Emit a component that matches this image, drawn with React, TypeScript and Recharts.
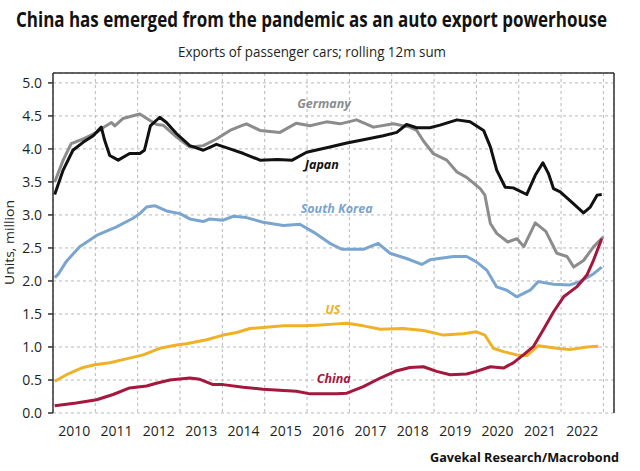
import {
  CartesianGrid,
  Line,
  LineChart,
  ReferenceDot,
  ReferenceLine,
  XAxis,
  YAxis,
} from 'recharts'

// rolling 12m passenger-car exports, million units; [fractional year, value]
const GERMANY: [number, number][] = [
  [2010.04, 3.5], [2010.24, 3.83], [2010.43, 4.08], [2010.71, 4.15], [2011.03, 4.25],
  [2011.18, 4.32], [2011.38, 4.4], [2011.46, 4.35], [2011.65, 4.46], [2012.05, 4.53],
  [2012.29, 4.43], [2012.45, 4.37], [2012.6, 4.36], [2012.92, 4.18], [2013.23, 4.03],
  [2013.55, 4.05], [2013.86, 4.15], [2014.18, 4.28], [2014.41, 4.34], [2014.57, 4.38],
  [2014.89, 4.28], [2015.36, 4.25], [2015.75, 4.39], [2016.07, 4.35], [2016.46, 4.41],
  [2016.78, 4.38], [2017.17, 4.44], [2017.57, 4.33], [2018.04, 4.38], [2018.43, 4.33],
  [2018.59, 4.28], [2018.75, 4.12], [2018.98, 3.93], [2019.3, 3.83], [2019.54, 3.65],
  [2019.77, 3.57], [2020.09, 3.4], [2020.2, 3.3], [2020.33, 2.87], [2020.48, 2.72],
  [2020.74, 2.59], [2020.96, 2.64], [2021.12, 2.52], [2021.39, 2.88], [2021.64, 2.75],
  [2021.9, 2.42], [2022.14, 2.37], [2022.3, 2.21], [2022.53, 2.31], [2022.77, 2.52],
  [2023.0, 2.67],
]

const JAPAN: [number, number][] = [
  [2010.04, 3.31], [2010.24, 3.68], [2010.47, 3.98], [2010.71, 4.1], [2010.95, 4.2],
  [2011.14, 4.33], [2011.22, 4.13], [2011.34, 3.9], [2011.54, 3.83], [2011.81, 3.93],
  [2012.05, 3.93], [2012.16, 3.98], [2012.3, 4.35], [2012.52, 4.48], [2012.68, 4.4],
  [2012.92, 4.23], [2013.23, 4.05], [2013.55, 3.98], [2013.86, 4.07], [2014.18, 4.0],
  [2014.5, 3.93], [2014.89, 3.83], [2015.3, 3.84], [2015.65, 3.83], [2015.99, 3.95],
  [2016.54, 4.03], [2016.94, 4.09], [2017.33, 4.14], [2017.8, 4.2], [2018.12, 4.25],
  [2018.35, 4.37], [2018.59, 4.32], [2018.9, 4.32], [2019.14, 4.36], [2019.54, 4.44],
  [2019.85, 4.41], [2020.17, 4.28], [2020.33, 4.03], [2020.48, 3.68], [2020.68, 3.42],
  [2020.87, 3.41], [2021.19, 3.31], [2021.39, 3.6], [2021.57, 3.79], [2021.7, 3.63],
  [2021.82, 3.4], [2021.98, 3.35], [2022.29, 3.17], [2022.53, 3.03], [2022.69, 3.12],
  [2022.85, 3.3], [2022.96, 3.31],
]

const SOUTH_KOREA: [number, number][] = [
  [2010.04, 2.05], [2010.12, 2.1], [2010.32, 2.3], [2010.63, 2.52], [2011.03, 2.69],
  [2011.5, 2.82], [2011.89, 2.95], [2012.05, 3.02], [2012.21, 3.12], [2012.4, 3.14],
  [2012.68, 3.06], [2013.0, 3.02], [2013.23, 2.94], [2013.55, 2.9], [2013.7, 2.94],
  [2014.02, 2.92], [2014.26, 2.98], [2014.57, 2.96], [2014.96, 2.89], [2015.44, 2.84],
  [2015.83, 2.86], [2016.15, 2.74], [2016.54, 2.57], [2016.82, 2.48], [2017.33, 2.48],
  [2017.68, 2.57], [2017.96, 2.42], [2018.35, 2.34], [2018.71, 2.25], [2018.9, 2.32],
  [2019.46, 2.37], [2019.77, 2.37], [2020.0, 2.29], [2020.25, 2.16], [2020.48, 1.91],
  [2020.72, 1.86], [2020.95, 1.76], [2021.27, 1.86], [2021.46, 1.99], [2021.82, 1.95],
  [2022.21, 1.94], [2022.45, 1.99], [2022.77, 2.11], [2022.96, 2.21],
]

const US: [number, number][] = [
  [2010.04, 0.48], [2010.32, 0.58], [2010.71, 0.69], [2010.99, 0.73], [2011.34, 0.76],
  [2011.73, 0.82], [2012.13, 0.88], [2012.52, 0.98], [2012.92, 1.03], [2013.15, 1.05],
  [2013.39, 1.08], [2013.63, 1.11], [2014.02, 1.18], [2014.34, 1.22], [2014.65, 1.28],
  [2015.04, 1.3], [2015.44, 1.32], [2015.91, 1.32], [2016.23, 1.33], [2016.7, 1.35],
  [2016.94, 1.36], [2017.33, 1.32], [2017.73, 1.27], [2018.27, 1.28], [2018.75, 1.25],
  [2019.22, 1.18], [2019.69, 1.2], [2020.0, 1.23], [2020.2, 1.18], [2020.4, 0.98],
  [2020.64, 0.93], [2020.95, 0.88], [2021.19, 0.87], [2021.46, 1.02], [2021.9, 0.98],
  [2022.21, 0.96], [2022.61, 1.0], [2022.88, 1.01],
]

const CHINA: [number, number][] = [
  [2010.04, 0.11], [2010.55, 0.15], [2011.03, 0.2], [2011.42, 0.28], [2011.81, 0.38],
  [2012.21, 0.41], [2012.44, 0.45], [2012.76, 0.5], [2013.23, 0.53], [2013.47, 0.51],
  [2013.78, 0.43], [2014.02, 0.43], [2014.49, 0.39], [2014.96, 0.36], [2015.44, 0.34],
  [2015.75, 0.33], [2016.07, 0.29], [2016.7, 0.29], [2016.94, 0.3], [2017.33, 0.4],
  [2017.73, 0.53], [2018.12, 0.64], [2018.43, 0.69], [2018.75, 0.7], [2019.06, 0.63],
  [2019.38, 0.58], [2019.77, 0.59], [2020.0, 0.63], [2020.33, 0.7], [2020.64, 0.68],
  [2020.87, 0.76], [2021.11, 0.88], [2021.35, 1.01], [2021.58, 1.26], [2021.82, 1.53],
  [2022.06, 1.76], [2022.37, 1.91], [2022.61, 2.09], [2022.77, 2.32], [2022.96, 2.64],
]

const YEAR_TICKS = [2010, 2011, 2012, 2013, 2014, 2015, 2016, 2017, 2018, 2019, 2020, 2021, 2022, 2023]
const YEAR_LABEL_TICKS = YEAR_TICKS.slice(0, -1).map((y) => y + 0.5)
const Y_TICKS = [0, 0.5, 1, 1.5, 2, 2.5, 3, 3.5, 4, 4.5, 5]
const X_DOMAIN: [number, number] = [2010, 2023.25]
const Y_DOMAIN: [number, number] = [0, 5.15]

// label name, anchor position [year, value], colour
const SERIES = [
  { name: 'South Korea', data: SOUTH_KOREA, color: '#7aa5cf', at: [2016.7, 3.1] },
  { name: 'US', data: US, color: '#efb128', at: [2016.61, 1.56] },
  { name: 'Germany', data: GERMANY, color: '#8c8c8c', at: [2016.4, 4.69] },
  { name: 'Japan', data: JAPAN, color: '#111111', at: [2016.35, 3.76] },
  { name: 'China', data: CHINA, color: '#a5173d', at: [2016.63, 0.52] },
]

const FONT = '"Open Sans", sans-serif'
const INK = '#231f20'

const toPoints = (rows: [number, number][]) => rows.map(([t, v]) => ({ t, v }))

export default function App() {
  return (
    <div style={{ position: 'relative', width: 640, height: 471, background: '#fff' }}>
      <style>{'body { margin: 0; }'}</style>
      <LineChart
        width={640}
        height={471}
        margin={{ top: 73, right: 26, bottom: 28, left: 0 }}
        style={{ fontFamily: FONT }}
      >
        <CartesianGrid stroke="#b8b8b8" strokeDasharray="3 3" />
        <XAxis
          dataKey="t"
          type="number"
          domain={X_DOMAIN}
          allowDataOverflow
          ticks={YEAR_TICKS}
          height={0}
          tickSize={6}
          tick={() => <g />}
          axisLine={{ stroke: '#333', strokeWidth: 1.5 }}
          tickLine={{ stroke: '#333', strokeWidth: 1.5 }}
        />
        <XAxis
          xAxisId="lbl"
          dataKey="t"
          type="number"
          domain={X_DOMAIN}
          allowDataOverflow
          ticks={YEAR_LABEL_TICKS}
          tickFormatter={(v: number) => String(Math.floor(v))}
          height={30}
          tickSize={6}
          tickMargin={7}
          axisLine={false}
          tickLine={false}
          tick={{ fontSize: 14, fill: INK, fontFamily: FONT }}
        />
        <YAxis
          type="number"
          domain={Y_DOMAIN}
          allowDataOverflow
          ticks={Y_TICKS}
          tickFormatter={(v: number) => v.toFixed(1)}
          width={53}
          tickSize={5}
          tickMargin={6}
          axisLine={{ stroke: '#333', strokeWidth: 1.5 }}
          tickLine={{ stroke: '#333', strokeWidth: 1.5 }}
          tick={{ fontSize: 14, fill: INK, fontFamily: FONT }}
        />
        <ReferenceLine x={X_DOMAIN[1]} stroke="#333" strokeWidth={1.5} />
        <ReferenceLine y={Y_DOMAIN[1]} stroke="#333" strokeWidth={1.5} />
        {SERIES.map((s) => (
          <Line
            key={s.name}
            data={toPoints(s.data)}
            dataKey="v"
            type="linear"
            stroke={s.color}
            strokeWidth={3}
            strokeLinejoin="round"
            dot={false}
            activeDot={false}
            isAnimationActive={false}
          />
        ))}
        {SERIES.map((s) => (
          <ReferenceDot
            key={'lbl-' + s.name}
            x={s.at[0]}
            y={s.at[1]}
            r={0}
            stroke="none"
            fill="none"
            label={{
              value: s.name,
              position: 'center',
              fill: s.color,
              fontSize: 12.5,
              fontWeight: 700,
              fontStyle: 'italic',
              fontFamily: FONT,
            }}
          />
        ))}
      </LineChart>
      <svg
        width={640}
        height={471}
        style={{ position: 'absolute', left: 0, top: 0, pointerEvents: 'none' }}
        fontFamily={FONT}
      >
        <text
          transform="translate(16,26.5) scale(1,1.18)"
          fontSize={17.5}
          fontWeight={700}
          fill="#111"
          textLength={591}
          lengthAdjust="spacingAndGlyphs"
        >
          China has emerged from the pandemic as an auto export powerhouse
        </text>
        <text x={178} y={57} fontSize={15} fill={INK} textLength={268} lengthAdjust="spacingAndGlyphs">
          Exports of passenger cars; rolling 12m sum
        </text>
        <text
          transform="translate(13.5,285) rotate(-90)"
          fontSize={13.5}
          fill={INK}
          textLength={85}
          lengthAdjust="spacingAndGlyphs"
        >
          Units, million
        </text>
        <text x={430} y={461.5} fontSize={13} fontWeight={700} fill="#111" textLength={189} lengthAdjust="spacingAndGlyphs">
          Gavekal Research/Macrobond
        </text>
      </svg>
    </div>
  )
}
